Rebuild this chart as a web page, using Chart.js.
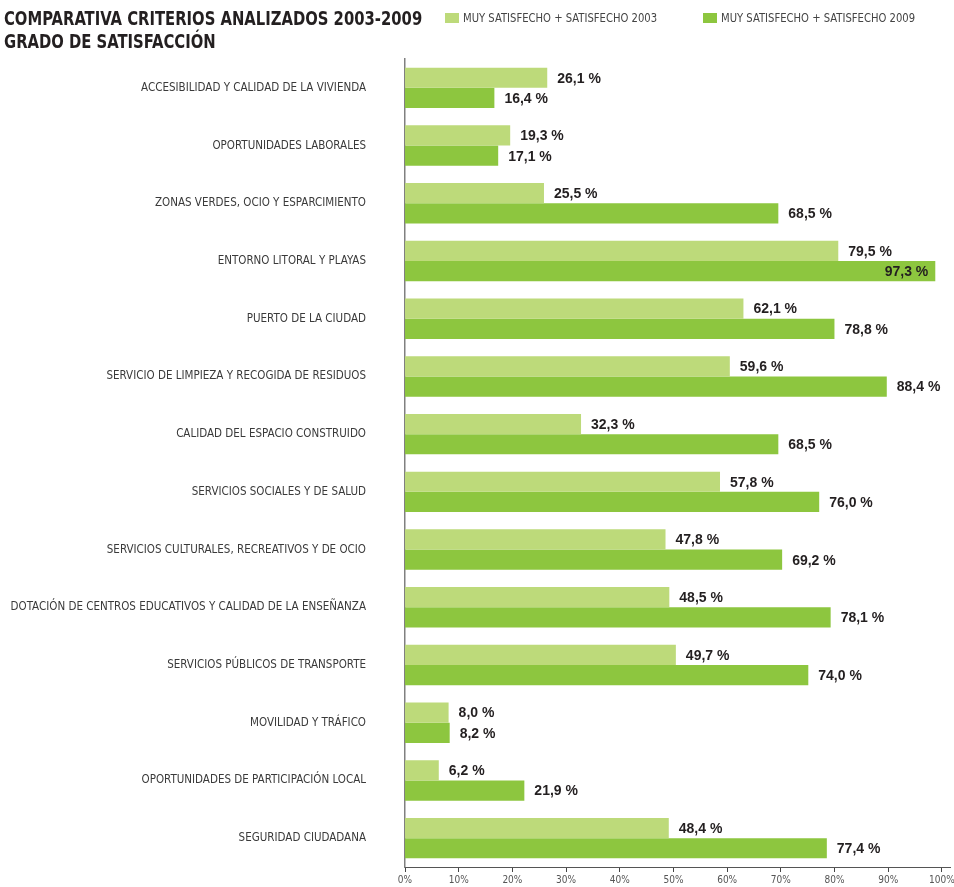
<!DOCTYPE html>
<html lang="es">
<head>
<meta charset="utf-8">
<title>Comparativa criterios analizados 2003-2009</title>
<script src="https://cdn.jsdelivr.net/npm/chart.js@4.4.1/dist/chart.umd.min.js"></script>
<style>
  html, body { margin: 0; padding: 0; background: #fff; }
  #wrap { position: relative; width: 954px; height: 887px; overflow: hidden; }
  #chart { position: absolute; left: 0; top: 0; }
  .title {
    position: absolute; left: 4px; top: 7px;
    font: bold 20px/23px "DejaVu Sans Condensed", sans-serif;
    color: #231f20; white-space: nowrap;
    transform: scaleX(0.823); transform-origin: 0 0;
  }
  .legend { position: absolute; top: 11px; font: 12px "DejaVu Sans Condensed", sans-serif; color: #444; white-space: nowrap; }
  .legend i { display: inline-block; width: 14px; height: 10px; margin-right: 4px; vertical-align: -1px; }
  .legend span { display: inline-block; transform: scaleX(0.93); transform-origin: 0 0; }
</style>
</head>
<body>
<div id="wrap">
  <canvas id="chart" width="954" height="887"></canvas>
  <div class="title">COMPARATIVA CRITERIOS ANALIZADOS 2003-2009<br>GRADO DE SATISFACCIÓN</div>
  <div class="legend" id="leg2003" style="left:445px"></div>
  <div class="legend" id="leg2009" style="left:703px"></div>
</div>
<script>
// criteria, top to bottom
const categories = [
  'ACCESIBILIDAD Y CALIDAD DE LA VIVIENDA',
  'OPORTUNIDADES LABORALES',
  'ZONAS VERDES, OCIO Y ESPARCIMIENTO',
  'ENTORNO LITORAL Y PLAYAS',
  'PUERTO DE LA CIUDAD',
  'SERVICIO DE LIMPIEZA Y RECOGIDA DE RESIDUOS',
  'CALIDAD DEL ESPACIO CONSTRUIDO',
  'SERVICIOS SOCIALES Y DE SALUD',
  'SERVICIOS CULTURALES, RECREATIVOS Y DE OCIO',
  'DOTACIÓN DE CENTROS EDUCATIVOS Y CALIDAD DE LA ENSEÑANZA',
  'SERVICIOS PÚBLICOS DE TRANSPORTE',
  'MOVILIDAD Y TRÁFICO',
  'OPORTUNIDADES DE PARTICIPACIÓN LOCAL',
  'SEGURIDAD CIUDADANA'
];

const values2003 = [26.1, 19.3, 25.5, 79.5, 62.1, 59.6, 32.3, 57.8, 47.8, 48.5, 49.7, 8.0, 6.2, 48.4];
const values2009 = [16.4, 17.1, 68.5, 97.3, 78.8, 88.4, 68.5, 76.0, 69.2, 78.1, 74.0, 8.2, 21.9, 77.4];

const seriesNames = ['MUY SATISFECHO + SATISFECHO 2003', 'MUY SATISFECHO + SATISFECHO 2009'];
const axisTicks = [0, 10, 20, 30, 40, 50, 60, 70, 80, 90, 100];

const colors = ['#bdda7a', '#8dc63f'];
const narrow = '"DejaVu Sans Condensed", sans-serif';

// html legend
['leg2003', 'leg2009'].forEach((id, i) => {
  const el = document.getElementById(id);
  el.innerHTML = '<i style="background:' + colors[i] + '"></i><span>' + seriesNames[i] + '</span>';
});

// value labels at the end of each bar ("26,1 %")
const valueLabels = {
  id: 'valueLabels',
  afterDatasetsDraw(chart) {
    const ctx = chart.ctx;
    ctx.save();
    ctx.font = 'bold 14px "Liberation Sans", Arial, sans-serif';
    ctx.fillStyle = '#231f20';
    ctx.textBaseline = 'middle';
    chart.data.datasets.forEach((ds, i) => {
      chart.getDatasetMeta(i).data.forEach((bar, j) => {
        const v = ds.data[j];
        const txt = v.toFixed(1).replace('.', ',') + ' %';
        if (v > 95) {
          ctx.textAlign = 'right';
          ctx.fillText(txt, bar.x - 7, bar.y + 1);
        } else {
          ctx.textAlign = 'left';
          ctx.fillText(txt, bar.x + 10, bar.y + 1);
        }
      });
    });
    ctx.restore();
  }
};

new Chart(document.getElementById('chart'), {
  type: 'bar',
  data: {
    labels: categories,
    datasets: [
      { label: seriesNames[0], data: values2003, backgroundColor: colors[0], xAxisID: 'x' },
      { label: seriesNames[1], data: values2009, backgroundColor: colors[1], xAxisID: 'x' }
    ]
  },
  options: {
    indexAxis: 'y',
    responsive: false,
    animation: false,
    categoryPercentage: 0.7,
    barPercentage: 1,
    layout: { padding: { top: 59, right: 4, left: 0, bottom: 0 } },
    plugins: {
      legend: { display: false },
      tooltip: { enabled: false }
    },
    scales: {
      y: {
        position: 'left',
        grid: { display: false, drawTicks: false },
        border: { display: true, color: '#808080', width: 1.5 },
        ticks: { color: '#3a3a3a', padding: 39, font: { family: narrow, size: 11.5 } },
        afterFit: (scale) => {
          scale.width = 405;
          // tick padding would otherwise be reserved above/below the axis too
          scale.paddingTop = 0;
          scale.paddingBottom = 0;
        }
      },
      // bar scale
      x: {
        display: false, min: 0, max: 100,
        afterFit: (scale) => { scale.height = 0; }
      },
      // printed axis, slightly compressed vs bars as in the original
      x2: {
        type: 'linear',
        axis: 'x',
        position: 'bottom',
        min: 0,
        max: 101.5,
        grid: { drawOnChartArea: false, drawTicks: true, tickLength: 5, tickColor: '#444' },
        border: { display: true, color: '#555', width: 1 },
        ticks: {
          padding: 2,
          color: '#555',
          font: { family: narrow, size: 10 },
          callback: (v) => v + '%'
        },
        afterBuildTicks: (scale) => { scale.ticks = axisTicks.map(v => ({ value: v })); },
        afterFit: (scale) => {
          scale.height = 20;
          scale.paddingLeft = 0;
          scale.paddingRight = 0;
        }
      }
    }
  },
  plugins: [valueLabels]
});
</script>
</body>
</html>
